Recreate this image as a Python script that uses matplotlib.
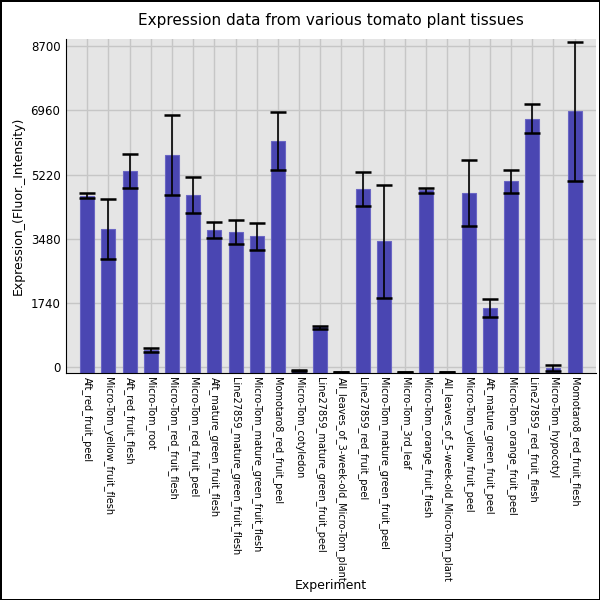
import matplotlib
matplotlib.use("Agg")
import matplotlib.pyplot as plt
import numpy as np

# tissue names and values
tissues = [
    "Aft_red_fruit_peel", "Micro-Tom_yellow_fruit_flesh", "Aft_red_fruit_flesh",
    "Micro-Tom_root", "Micro-Tom_red_fruit_flesh", "Micro-Tom_red_fruit_peel",
    "Aft_mature_green_fruit_flesh", "Line27859_mature_green_fruit_flesh",
    "Micro-Tom_mature_green_fruit_flesh", "Momotaro8_red_fruit_peel",
    "Micro-Tom_cotyledon", "Line27859_mature_green_fruit_peel",
    "All_leaves_of_3-week-old_Micro-Tom_plant", "Line27859_red_fruit_peel",
    "Micro-Tom_mature_green_fruit_peel", "Micro-Tom_3rd_leaf",
    "Micro-Tom_orange_fruit_flesh", "All_leaves_of_5-week-old_Micro-Tom_plant",
    "Micro-Tom_yellow_fruit_peel", "Aft_mature_green_fruit_peel",
    "Micro-Tom_orange_fruit_peel", "Line27859_red_fruit_flesh",
    "Micro-Tom_hypocotyl", "Momotaro8_red_fruit_flesh",
]
expression = [4650, 3738, 5324, 450, 5750, 4667, 3716, 3652, 3548, 6126,
              -100, 1070, -136, 4835, 3408, -145, 4790, -136, 4726, 1595,
              5034, 6738, -40, 6937]
errors = [60, 811, 457, 60, 1074, 500, 227, 326, 367, 780,
          15, 50, 5, 458, 1532, 4, 68, 5, 902, 254,
          322, 394, 85, 1890]
yticks = [0, 1740, 3480, 5220, 6960, 8700]

ymin, ymax = -172, 8900
x = np.arange(len(tissues))
vals = np.array(expression)

fig = plt.figure(figsize=(6, 6), dpi=100, edgecolor="black", linewidth=2)
ax = fig.add_axes([0.11, 0.378, 0.883, 0.557])
ax.set_facecolor("#e5e5e5")
ax.set_axisbelow(True)
ax.grid(True, color="#c6c6c6", linewidth=1)

# bars start from the bottom of the axes
ax.bar(x, vals - ymin, bottom=ymin, width=0.66, color="#4a46b2",
       edgecolor="#6a66c4", linewidth=0.8, zorder=2)
ax.errorbar(x, vals, yerr=errors, fmt="none", ecolor="black",
            elinewidth=1.2, capsize=6, capthick=1.8, zorder=3)

ax.set_xlim(-1, len(tissues))
ax.set_ylim(ymin, ymax)
ax.set_xticks(x)
ax.set_xticklabels(tissues, rotation=270, fontsize=7, ha="center", va="top")
ax.set_yticks(yticks)
ax.tick_params(axis="y", length=0, labelsize=8.5, pad=4)
ax.tick_params(axis="x", length=0, pad=3)

for s in ["top", "right"]:
    ax.spines[s].set_visible(False)
ax.spines["left"].set_color("black")
ax.spines["bottom"].set_color("black")

ax.set_title("Expression data from various tomato plant tissues", fontsize=11, pad=10)
ax.set_ylabel("Expression_(Fluor._Intensity)", fontsize=9)
ax.set_xlabel("Experiment", fontsize=9)
ax.xaxis.set_label_coords(0.5, -0.617)

plt.savefig("out.png", dpi=100, edgecolor=fig.get_edgecolor())
